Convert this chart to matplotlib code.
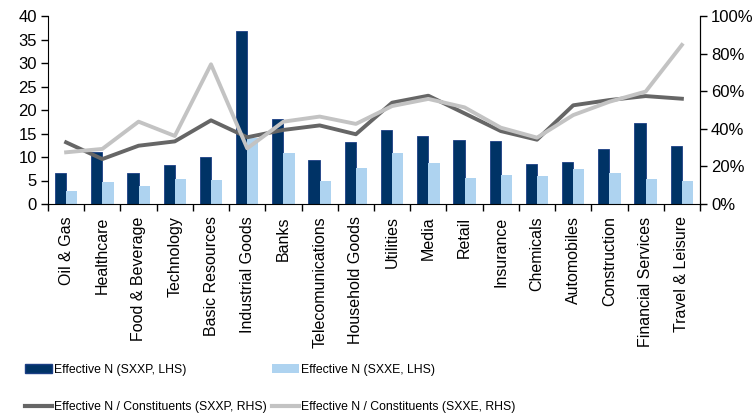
import numpy as np
import matplotlib
matplotlib.use('Agg')
import matplotlib.pyplot as plt
from matplotlib.patches import Patch
from matplotlib.lines import Line2D
from matplotlib.ticker import FuncFormatter

plt.rcParams['font.family'] = ['Liberation Sans', 'DejaVu Sans']

sectors = ['Oil & Gas', 'Healthcare', 'Food & Beverage', 'Technology', 'Basic Resources',
           'Industrial Goods', 'Banks', 'Telecomunications', 'Household Goods', 'Utilities',
           'Media', 'Retail', 'Insurance', 'Chemicals', 'Automobiles', 'Construction',
           'Financial Services', 'Travel & Leisure']
eff_sxxp = [6.7, 11.1, 6.6, 8.4, 9.9, 36.8, 18.1, 9.3, 13.1, 15.7,
            14.5, 13.7, 13.3, 8.6, 9.0, 11.6, 17.3, 12.4]
eff_sxxe = [2.7, 4.7, 3.9, 5.3, 5.1, 14.0, 10.8, 5.0, 7.6, 10.9,
            8.8, 5.5, 6.2, 6.0, 7.5, 6.5, 5.3, 5.0]
ratio_sxxp = [32.8, 23.9, 31.0, 33.3, 44.5, 35.5, 39.4, 41.8, 37.1, 53.9,
              57.6, 48.2, 38.8, 34.2, 52.5, 55.3, 57.4, 56.0]
ratio_sxxe = [27.5, 29.3, 43.8, 36.2, 74.3, 29.6, 43.8, 46.5, 42.6, 52.1,
              55.9, 51.4, 40.6, 35.3, 47.3, 54.4, 59.8, 84.6]

c_dark = '#003366'
c_light = '#aed3f0'
c_line1 = '#666666'
c_line2 = '#c3c3c3'

fig = plt.figure(figsize=(7.55, 4.16), dpi=100)
ax = fig.add_axes([48/755, 1-204/416, (700-48)/755, (204-16)/416])
ax2 = ax.twinx()

x = np.arange(len(sectors))
w = 0.31
ax.bar(x - w/2, eff_sxxp, w, color=c_dark, edgecolor='#1c3f85', linewidth=0.6)
ax.bar(x + w/2, eff_sxxe, w, color=c_light, linewidth=0)
ax2.plot(x, ratio_sxxp, color=c_line1, lw=2.8)
ax2.plot(x, ratio_sxxe, color=c_line2, lw=2.8)

ax.set_xlim(-0.5, len(sectors)-0.5)
ax.set_ylim(0, 40)
ax.set_yticks(np.arange(0, 41, 5))
ax2.set_ylim(0, 100)
ax2.set_yticks(np.arange(0, 101, 20))
ax2.yaxis.set_major_formatter(FuncFormatter(lambda v, p: '{:.0f}%'.format(v)))

ax.set_xticks(x)
ax.set_xticklabels(sectors, rotation=90)
ax.set_xticks(np.arange(len(sectors)+1)-0.5, minor=True)
ax.tick_params(axis='x', which='major', length=0, labelsize=11.5, pad=9)
ax.tick_params(axis='x', which='minor', length=5, width=1)
ax.tick_params(axis='y', length=5, width=1, labelsize=12, pad=3)
ax2.tick_params(axis='y', length=5, width=1, labelsize=12, pad=3)

for a in (ax, ax2):
    a.spines['top'].set_visible(False)
ax2.spines['left'].set_visible(False)
ax2.spines['bottom'].set_visible(False)

handles = [Patch(facecolor=c_dark, edgecolor='#1c3f85'),
           Line2D([], [], color=c_line1, lw=3),
           Patch(facecolor=c_light),
           Line2D([], [], color=c_line2, lw=3)]
labels = ['Effective N (SXXP, LHS)', 'Effective N / Constituents (SXXP, RHS)',
          'Effective N (SXXE, LHS)', 'Effective N / Constituents (SXXE, RHS)']
fig.legend(handles, labels, ncol=2, loc='upper left', bbox_to_anchor=(25/755, 1-364/416),
           frameon=False, borderpad=0, borderaxespad=0, handlelength=2.2, handletextpad=0.15,
           labelspacing=2.05, columnspacing=0.45, prop={'size': 8.8})

plt.savefig('out.png', dpi=100)
